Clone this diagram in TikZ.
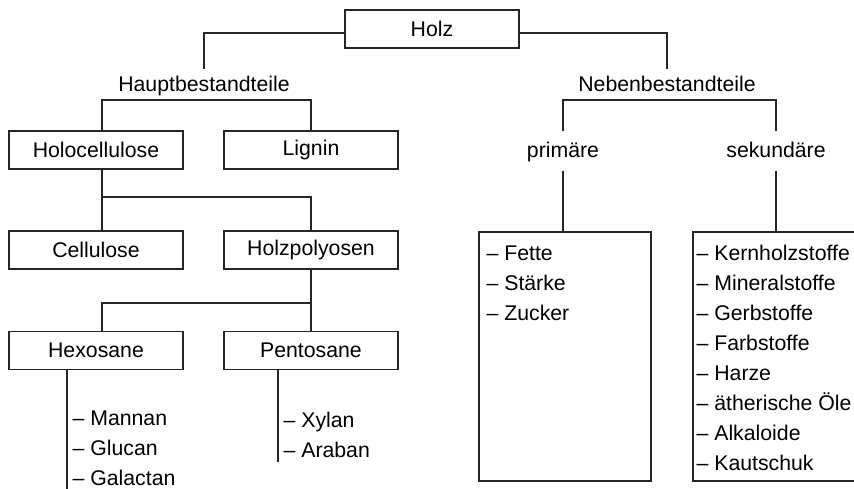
\documentclass[tikz,border=0pt]{standalone}
\usepackage{fontspec}
\setmainfont{Liberation Sans}
\usetikzlibrary{calc}
\tikzset{
	box/.style={draw, minimum width=3.48cm, minimum height=0.76cm, inner sep=0pt},
	branch/.style={inner sep=0pt, text height=0.72em, text depth=0pt, minimum height=0.6cm},
	subbranch/.style={branch, minimum height=0.76cm},
	item/.style={anchor=base west, inner sep=0pt}
}

\begin{document}
\begin{tikzpicture}[x=0.02cm, y=-0.02cm, line width=0.7pt, draw=black!85,
		font=\fontsize{12.1}{14}\selectfont]
		\clip (0,0) rectangle (854,489);
		\coordinate (colL) at (102,0);
		\coordinate (bar1) at (0,100);
		\coordinate (bar2) at (0,197);
		\coordinate (bar3) at (0,303);
		\coordinate (hexEnd) at (67,495);
		\coordinate (pentEnd) at (278,462);

		\node[box] (holz) at (432,29) {Holz};
		\node[branch] (haupt) at (204,85) {Hauptbestandteile};
		\node[branch] (neben) at (667,85) {Nebenbestandteile};
		\node[box] (holo) at (96,150) {Holocellulose};
		\node[box] (lignin) at (311,150) {Lignin};
		\node[box] (cell) at (96,250) {Cellulose};
		\node[box] (holzp) at (311,250) {Holzpolyosen};
		\node[box] (hex) at (96,350.5) {Hexosane};
		\node[box] (pent) at (311,350.5) {Pentosane};
		\node[subbranch] (prim) at (563,151) {primäre};
		\node[subbranch] (sek) at (776,151) {sekundäre};
		\node[box, minimum width=3.44cm, minimum height=4.98cm] (pbox) at (565,356.5) {};
		\node[box, minimum height=4.98cm] (sbox) at (780,356.5) {};

		\foreach \name [count=\i] in {Mannan,Glucan,Galactan}
			\node[item] (hex\i) at (72,395+30*\i) {– \name};
		\foreach \name [count=\i] in {Xylan,Araban}
			\node[item] (pent\i) at (283,397+30*\i) {– \name};
		\foreach \name [count=\i] in {Fette,Stärke,Zucker}
			\node[item] (prim\i) at (486,230+30*\i) {– \name};
		\foreach \name [count=\i] in {Kernholzstoffe,Mineralstoffe,Gerbstoffe,Farbstoffe,Harze,ätherische Öle,Alkaloide,Kautschuk}
			\node[item] (sek\i) at (696,230+30*\i) {– \name};

		\draw ([yshift=-0.08cm]holz.west) -| (haupt.north);
		\draw ([yshift=-0.08cm]holz.east) -| (neben.north);
		\draw (holo.north -| colL) |- (bar1 -| lignin.north) -- (lignin.north);
		\draw (prim.north) |- (bar1 -| sek.north) -- (sek.north);
		\draw (holo.south -| colL) -- (cell.north -| colL);
		\draw (bar2 -| colL) -| (holzp.north);
		\draw (holzp.south) -- (pent.north);
		\draw (bar3 -| holzp.south) -| (hex.north -| colL);
		\draw (prim.south) -- (prim.south |- pbox.north);
		\draw (sek.south) -- (sek.south |- sbox.north);
		\draw (hexEnd |- hex.south) -- (hexEnd);
		\draw (pentEnd |- pent.south) -- (pentEnd);
	\end{tikzpicture}
\end{document}
